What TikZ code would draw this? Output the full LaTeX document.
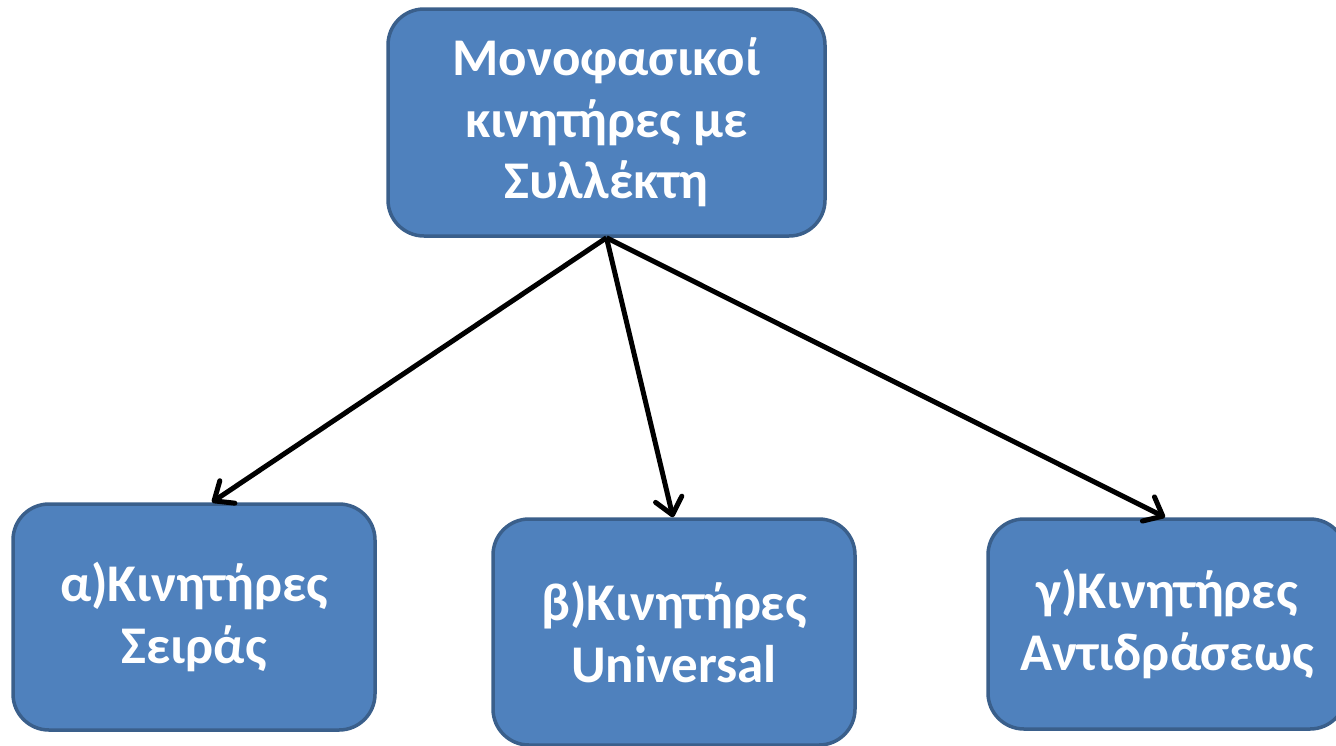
\documentclass[tikz,border=0pt]{standalone}
\usepackage{fontspec}
\setmainfont{Carlito}
\usetikzlibrary{arrows.meta}
\definecolor{boxfill}{HTML}{4F81BD}
\definecolor{boxline}{HTML}{3A5F8B}
\begin{document}
\begin{tikzpicture}[x=1pt,y=-1pt,
  box/.style={draw=boxline, line width=3.5pt, fill=boxfill, rounded corners=36pt,
    text=white, align=center, font=\fontsize{53}{61.5}\selectfont\bfseries, inner sep=0pt},
  conn/.style={line width=5pt, -{Straight Barb[length=16pt,width=27pt,line width=5pt,round]}}]
\useasboundingbox (0,0) rectangle (1336,745);
\clip (0,0) rectangle (1336,745);
\node[box, minimum width=437pt, minimum height=227pt] (top) at (606.5,122.5) {Μονοφασικοί\\κινητήρες με\\Συλλέκτη};
\node[box, minimum width=362pt, minimum height=226pt] (a) at (194,617) {α)Κινητήρες\\Σειράς};
\node[box, minimum width=362pt, minimum height=226pt] (b) at (674,632) {β)Κινητήρες\\Universal};
\node[box, minimum width=358pt, minimum height=210pt] (c) at (1167,624) {γ)Κινητήρες\\Αντιδράσεως};
\draw[conn] (top.south) -- ([xshift=18pt]a.north);
\draw[conn] (top.south) -- ([xshift=-1pt]b.north);
\draw[conn] (top.south) -- ([xshift=-2pt]c.north);
\end{tikzpicture}
\end{document}
